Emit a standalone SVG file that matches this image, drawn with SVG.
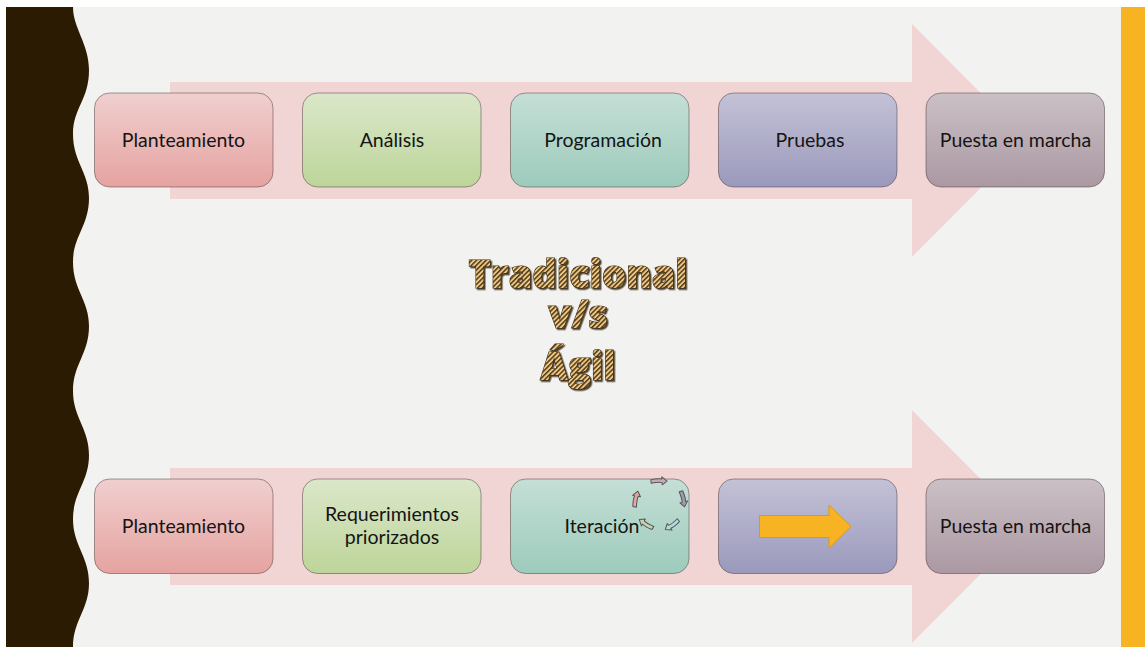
<svg xmlns="http://www.w3.org/2000/svg" width="1145" height="647" viewBox="0 0 1145 647">
<style>
.box{stroke-width:1;stroke-opacity:.45;stroke:#3a2a2a}
.lbl{font-family:Lato,"Liberation Sans",sans-serif;font-size:19.500px;fill:#141414;text-anchor:middle}
.big{font-family:"Open Sans","Liberation Sans",sans-serif;font-weight:800;font-size:38px;text-anchor:middle;fill:url(#stripes);stroke:#3a2a10;stroke-width:1.200;paint-order:stroke;filter:url(#sh)}
.band{fill:#f1d5d5}
.mini{stroke:#555;stroke-width:1;stroke-linejoin:round}
</style>
<defs>
<linearGradient id="g1" x1="0" y1="0" x2="0" y2="1"><stop offset="0" stop-color="#f0cfcf"/><stop offset="1" stop-color="#e5a3a0"/></linearGradient>
<linearGradient id="g2" x1="0" y1="0" x2="0" y2="1"><stop offset="0" stop-color="#dbe7c9"/><stop offset="1" stop-color="#bdd59a"/></linearGradient>
<linearGradient id="g3" x1="0" y1="0" x2="0" y2="1"><stop offset="0" stop-color="#c5dfd6"/><stop offset="1" stop-color="#9dcbbb"/></linearGradient>
<linearGradient id="g4" x1="0" y1="0" x2="0" y2="1"><stop offset="0" stop-color="#c3c2d6"/><stop offset="1" stop-color="#9b99bc"/></linearGradient>
<linearGradient id="g5" x1="0" y1="0" x2="0" y2="1"><stop offset="0" stop-color="#cbc0c6"/><stop offset="1" stop-color="#ab98a2"/></linearGradient>
<pattern id="stripes" width="3.400" height="3.400" patternUnits="userSpaceOnUse" patternTransform="rotate(-45)">
<rect width="3.400" height="3.400" fill="#f0c885"/><rect width="3.400" height="1.500" fill="#4f3a18"/>
</pattern>
<filter id="sh" x="-10%" y="-10%" width="120%" height="130%"><feDropShadow dx="1.500" dy="1.500" stdDeviation="0.700" flood-color="#2c1c04" flood-opacity=".8"/></filter>
<path id="a1" d="M-8-1.800Q0-3 3-1.800V-4L8 .5 3 4V1.800Q0 .8-8 1.800Z"/>
</defs>
<rect width="1145" height="647" fill="#fff"/>
<rect x="6" y="7" width="1139" height="640" fill="#f2f2f0"/>
<g id="side-bars">
<path d="M6 7H73C73 28 89 44 89 70C89 100 73 108 73 134C73 162 89 172 89 198C89 226 73 236 73 262C73 290 89 300 89 326C89 354 73 364 73 391C73 418 89 428 89 455C89 482 73 492 73 519C73 546 89 556 89 583C89 610 73 620 73 647H6Z" fill="#2b1b02"/>
<rect x="1121" y="7" width="24" height="640" fill="#f8b323"/>
</g>
<g id="connectors">
<path class="band" d="M170 82H912V24L1028 140.500 912 257V199H170Z"/>
<path class="band" d="M170 468H912V410L1028 526.500 912 643V585H170Z"/>
</g>
<g id="top-1"><rect class="box" x="94.500" y="93" width="178.500" height="94" rx="15" fill="url(#g1)"/><text class="lbl" x="183.500" y="147">Planteamiento</text></g>
<g id="top-2"><rect class="box" x="302.500" y="93" width="178.500" height="94" rx="15" fill="url(#g2)"/><text class="lbl" x="392" y="147">Análisis</text></g>
<g id="top-3"><rect class="box" x="510.500" y="93" width="178.500" height="94" rx="15" fill="url(#g3)"/><text class="lbl" x="603" y="147">Programación</text></g>
<g id="top-4"><rect class="box" x="718.500" y="93" width="178.500" height="94" rx="15" fill="url(#g4)"/><text class="lbl" x="810" y="147">Pruebas</text></g>
<g id="top-5"><rect class="box" x="926" y="93" width="178.500" height="94" rx="15" fill="url(#g5)"/><text class="lbl" x="1015.500" y="147">Puesta en marcha</text></g>
<g id="title"><text class="big"><tspan x="578" y="288">Tradicional</tspan><tspan x="578" y="328">v/s</tspan><tspan x="578" y="380">Ágil</tspan></text></g>
<g id="bot-1"><rect class="box" x="94.500" y="479" width="178.500" height="94.500" rx="15" fill="url(#g1)"/><text class="lbl" x="183.500" y="533">Planteamiento</text></g>
<g id="bot-2"><rect class="box" x="302.500" y="479" width="178.500" height="94.500" rx="15" fill="url(#g2)"/><text class="lbl" x="392" y="521">Requerimientos</text><text class="lbl" x="392" y="544">priorizados</text></g>
<g id="bot-3"><rect class="box" x="510.500" y="479" width="178.500" height="94.500" rx="15" fill="url(#g3)"/><text class="lbl" x="602" y="533">Iteración</text>
<use href="#a1" class="mini" fill="#c9a9bd" transform="translate(659 481) rotate(-3)"/>
<use href="#a1" class="mini" fill="#a09aa8" transform="translate(683 499) rotate(75)"/>
<use href="#a1" class="mini" fill="#b5dcdc" transform="translate(672 525) rotate(143)"/>
<use href="#a1" class="mini" fill="#c5d2b8" transform="translate(646 524) rotate(-150)"/>
<use href="#a1" class="mini" fill="#e4a5a5" transform="translate(636 499) rotate(-80)"/>
</g>
<g id="bot-4"><rect class="box" x="718.500" y="479" width="178.500" height="94.500" rx="15" fill="url(#g4)"/><path d="M759.500 515.500H829V505L851 526.500 829 548V537.500H759.500Z" fill="#f8b323" stroke="#d99a1c"/></g>
<g id="bot-5"><rect class="box" x="926" y="479" width="178.500" height="94.500" rx="15" fill="url(#g5)"/><text class="lbl" x="1015.500" y="533">Puesta en marcha</text></g>
</svg>
